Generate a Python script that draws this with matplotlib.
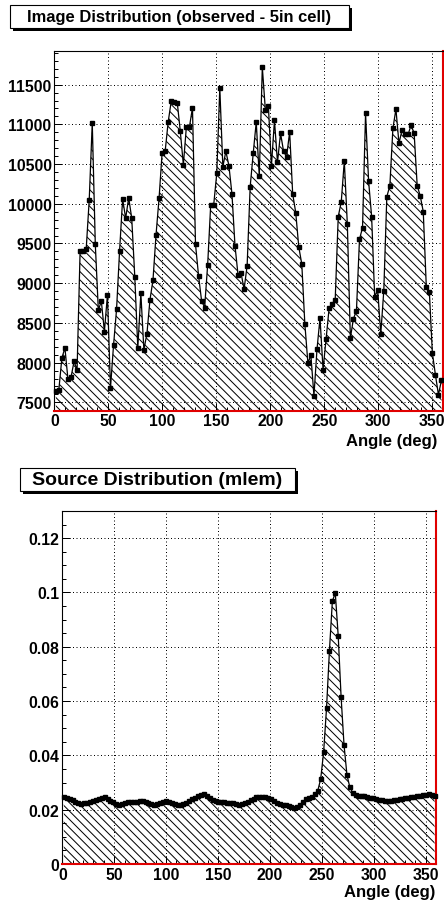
import matplotlib
matplotlib.use('Agg')
import matplotlib.pyplot as plt
import numpy as np
from matplotlib.patches import Rectangle
from matplotlib.ticker import MultipleLocator, FuncFormatter

plt.rcParams['font.family'] = ['Liberation Sans', 'DejaVu Sans']
plt.rcParams['font.weight'] = 'bold'
plt.rcParams['hatch.linewidth'] = 0.72
plt.rcParams['hatch.color'] = 'black'

# ---------------- data ----------------
n_bins = 128
angle_range = (0, 360)

image_counts = [
    7640, 7660, 8060, 8185, 7790, 7815, 8015, 7910, 9406, 9406, 9427, 10050,
    11020, 9490, 8665, 8770, 8392, 8853, 7680, 8216, 8670, 9410, 10060, 9817,
    10077, 9817, 9084, 8185, 8874, 8162, 8365, 8790, 9042, 9610, 10070, 10640,
    10660, 11030, 11290, 11280, 11270, 10910, 10490, 10972, 10966, 11210,
    9490, 9096, 8778, 8694, 9230, 9985, 9990, 10383, 11460, 10467, 10660, 10480,
    10125, 9473, 9105, 9126, 8925, 9222, 10215, 10633, 11030, 10345, 11720, 11184,
    11230, 10480, 11050, 10520, 10890, 10660, 10590, 10907, 10125, 9890,
    9458, 9241, 8491, 8000, 8091, 7583, 8166, 8562, 7911, 8300, 8686, 8740,
    8790, 9838, 10027, 10538, 9742, 8309, 8552, 8656, 9553, 9700, 11137, 10286,
    9838, 8832, 8916, 8359, 8904, 10089, 10228, 10948, 11191, 10760, 10927, 10873,
    10873, 10990, 10886, 10228, 10100, 9901, 8958, 8895, 8120, 7848, 7596, 7780,
]

source_values = [
    0.0246, 0.0242, 0.0238, 0.0234, 0.0230, 0.0226, 0.0222, 0.0223, 0.0225, 0.0227,
    0.0231, 0.0235, 0.0240, 0.0244, 0.0245, 0.0240, 0.0233, 0.0227, 0.0222, 0.0219,
    0.0221, 0.0224, 0.0227, 0.0228, 0.0229, 0.0230, 0.0232, 0.0232, 0.0229, 0.0225,
    0.0221, 0.0218, 0.0221, 0.0226, 0.0230, 0.0233, 0.0230, 0.0225, 0.0222, 0.0219,
    0.0219, 0.0221, 0.0225, 0.0231, 0.0238, 0.0244, 0.0249, 0.0255, 0.0257, 0.0252,
    0.0243, 0.0236, 0.0232, 0.0230, 0.0228, 0.0227, 0.0226, 0.0225, 0.0223, 0.0221,
    0.0219, 0.0221, 0.0226, 0.0230, 0.0235, 0.0241, 0.0245, 0.0246, 0.0247, 0.0247,
    0.0243, 0.0238, 0.0231, 0.0225, 0.0220, 0.0218, 0.0216, 0.0213, 0.0209, 0.0207,
    0.0211, 0.0218, 0.0229, 0.0238, 0.0243, 0.0248, 0.0258, 0.0270, 0.0313, 0.0411,
    0.0573, 0.0786, 0.0968, 0.0998, 0.0841, 0.0614, 0.0438, 0.0328, 0.0282, 0.0262,
    0.0255, 0.0252, 0.0250, 0.0249, 0.0247, 0.0244, 0.0242, 0.0239, 0.0236, 0.0234,
    0.0232, 0.0231, 0.0232, 0.0234, 0.0236, 0.0238, 0.0240, 0.0242, 0.0243, 0.0245,
    0.0247, 0.0249, 0.0251, 0.0253, 0.0255, 0.0256, 0.0254, 0.0252,
]

top_title = "Image Distribution (observed - 5in cell)"
bottom_title = "Source Distribution (mlem)"
x_label = "Angle (deg)"
x_ticks = [0, 50, 100, 150, 200, 250, 300, 350]

# ---------------- figure ----------------
W, H, DPI = 444, 903, 100
fig = plt.figure(figsize=(W / DPI, H / DPI), dpi=DPI)
fig.patch.set_facecolor('white')

edges = np.linspace(angle_range[0], angle_range[1], n_bins + 1)
centers = 0.5 * (edges[:-1] + edges[1:])

HATCH = chr(92) * 4


def rect_px(l, t, r, b):
    return [l / W, 1 - b / H, (r - l) / W, (b - t) / H]


def title_box(l, t, r, b, text, size):
    sh = 3
    fig.patches.append(Rectangle(((l + sh) / W, 1 - (b + sh) / H), (r - l) / W, (b - t) / H,
                                 transform=fig.transFigure, facecolor='black',
                                 edgecolor='black', linewidth=0, zorder=1))
    fig.patches.append(Rectangle((l / W, 1 - b / H), (r - l) / W, (b - t) / H,
                                 transform=fig.transFigure, facecolor='white',
                                 edgecolor='black', linewidth=0.8, zorder=2))
    fig.text((l + r) / 2 / W, 1 - (t + b) / 2 / H, text, ha='center', va='center',
             fontsize=size, fontweight='bold', zorder=3)


def panel(rect, vals, ylim, ymajor, yminor, fmt):
    ax = fig.add_axes(rect)
    ax.set_xlim(*angle_range)
    ax.set_ylim(*ylim)
    ax.set_axisbelow(True)
    ax.grid(True, which='major', color='black', linestyle=(0, (1, 2.5)), linewidth=0.72)
    ax.fill_between(centers, vals, ylim[0], facecolor='none', edgecolor='black',
                    hatch=HATCH, linewidth=0, zorder=2)
    ax.plot(centers, vals, color='black', lw=0.9, marker='s', ms=2.4,
            mfc='black', mec='black', zorder=3, clip_on=False)
    ax.set_xticks(x_ticks)
    ax.xaxis.set_minor_locator(MultipleLocator(10))
    ax.yaxis.set_major_locator(MultipleLocator(ymajor))
    ax.yaxis.set_minor_locator(MultipleLocator(yminor))
    ax.yaxis.set_major_formatter(FuncFormatter(fmt))
    ax.tick_params(which='both', direction='in', top=False, right=False,
                   width=0.72, color='black')
    ax.tick_params(which='major', length=5.8, labelsize=11.4, pad=2.0)
    ax.tick_params(which='minor', length=2.9)
    for lab in ax.get_xticklabels() + ax.get_yticklabels():
        lab.set_fontweight('bold')
    ax.spines['left'].set_color('black')
    ax.spines['top'].set_color('black')
    ax.spines['left'].set_linewidth(0.8)
    ax.spines['top'].set_linewidth(0.8)
    ax.spines['right'].set_color('#e00000')
    ax.spines['bottom'].set_color('#e00000')
    ax.spines['right'].set_linewidth(1.5)
    ax.spines['bottom'].set_linewidth(1.5)
    return ax


ax1 = panel(rect_px(54.3, 51.7, 443.0, 411.7), image_counts, (7395, 11927), 500, 100,
            lambda v, p: f"{v:.0f}")
ax2 = panel(rect_px(62.3, 511.7, 436.0, 865.0), source_values, (0, 0.1301), 0.02, 0.005,
            lambda v, p: f"{v:.2f}".rstrip('0').rstrip('.') if v != 0 else "0")

fig.text(437 / W, 1 - 442 / H, x_label, ha='right', va='center', fontsize=12, fontweight='bold')
fig.text(435 / W, 1 - 893 / H, x_label, ha='right', va='center', fontsize=12, fontweight='bold')

title_box(10, 6, 349, 29.3, top_title, 11.9)
title_box(20, 469.3, 295, 491.7, bottom_title, 14.0)

fig.savefig('out.png', dpi=DPI)
